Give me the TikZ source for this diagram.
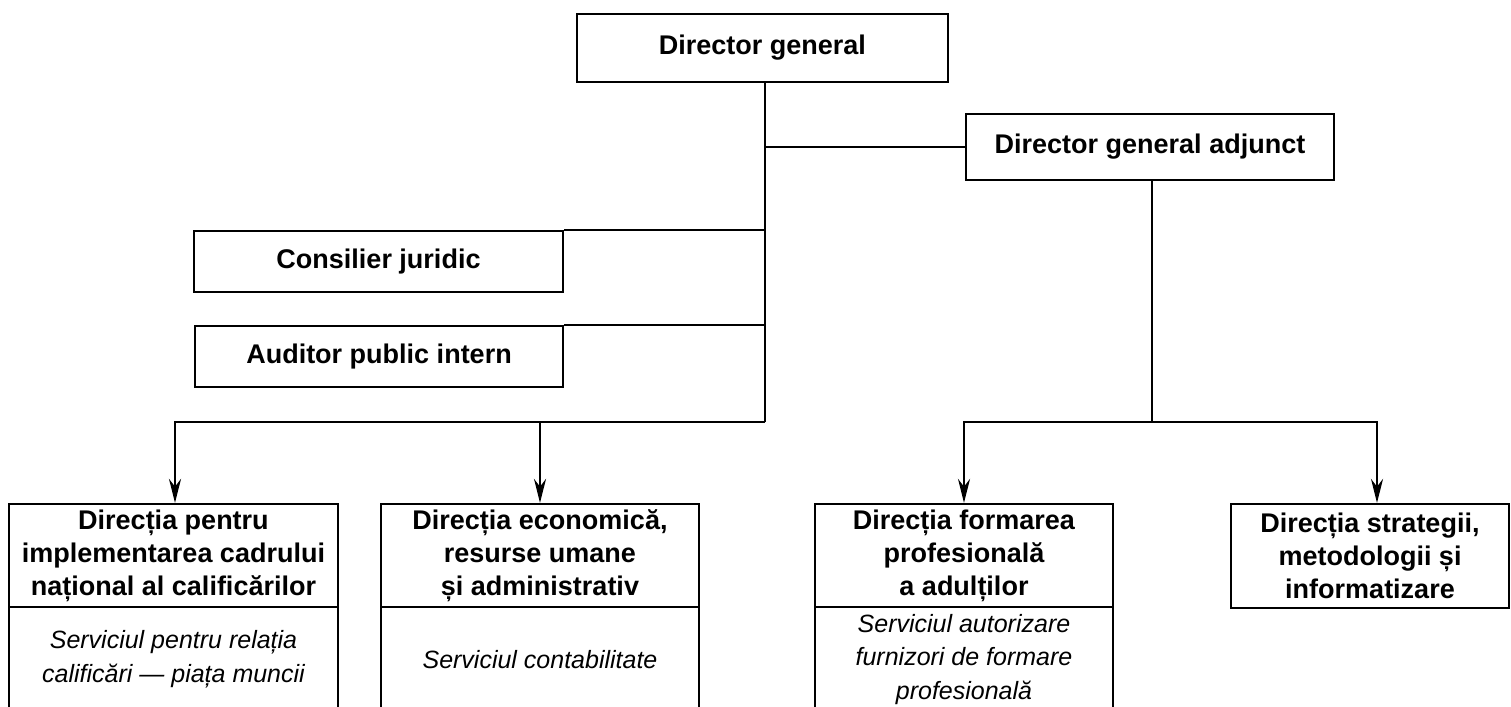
\documentclass[tikz,border=0pt]{standalone}
\usepackage{fontspec}
\setmainfont{Liberation Sans}
\usetikzlibrary{arrows.meta}
\begin{document}
\begin{tikzpicture}[x=0.5pt,y=-0.5pt,line width=1.1pt,
  box/.style={draw, rectangle, inner sep=0pt, align=center,
    font=\bfseries\fontsize{13.5}{16.5}\selectfont},
  sbox/.style={draw, rectangle, inner sep=0pt, align=center,
    font=\itshape\fontsize{12.5}{16.8}\selectfont},
  arr/.style={-{Stealth[length=12pt,width=6pt]}}]
\useasboundingbox (0,0) rectangle (1511,707);
\clip (0,0) rectangle (1511,707);

\node[box, minimum width=185.5pt, minimum height=34pt] (dg) at (762.5,48) {Director general};
\node[box, minimum width=184pt, minimum height=33pt] (dga) at (1150,147) {Director general adjunct};
\node[box, minimum width=184.5pt, minimum height=30.5pt] (cj) at (378.5,261.5) {Consilier juridic};
\node[box, minimum width=184pt, minimum height=30.5pt] (aud) at (379,356.5) {Auditor public intern};

\node[box, minimum width=164.5pt, minimum height=51.5pt] (b1) at (173.5,555.5)
  {Direcția pentru\\implementarea cadrului\\național al calificărilor};
\node[sbox, minimum width=164.5pt, minimum height=52.5pt] (s1) at (173.5,659.5)
  {Serviciul pentru relația\\calificări — piața muncii};

\node[box, minimum width=159pt, minimum height=51.5pt] (b2) at (540,555.5)
  {Direcția economică,\\resurse umane\\și administrativ};
\node[sbox, minimum width=159pt, minimum height=52.5pt] (s2) at (540,659.5)
  {Serviciul contabilitate};

\node[box, minimum width=149pt, minimum height=51.5pt] (b3) at (964,555.5)
  {Direcția formarea\\profesională\\a adulților};
\node[sbox, minimum width=149pt, minimum height=52.5pt] (s3) at (964,659.5)
  {Serviciul autorizare\\furnizori de formare\\profesională};

\node[box, minimum width=139pt, minimum height=52pt] (b4) at (1370,556)
  {Direcția strategii,\\metodologii și\\informatizare};

\coordinate (lj) at (765,422);
\coordinate (rj) at (1152,422);
\coordinate (dgs) at (dg.south -| lj);
\coordinate (dj) at (lj |- dga.west);
\coordinate (dgas) at (dga.south -| rj);

\draw (dgs) -- (lj);
\draw (dj) -- (dga.west);
\draw (cj.north east) -- (cj.north east -| lj);
\draw (aud.north east) -- (aud.north east -| lj);
\draw[arr] (lj) -| ([xshift=0.75pt]b1.north);
\draw[arr] (lj) -| (b2.north);
\draw (dgas) -- (rj);
\draw[arr] (rj) -| (b3.north);
\draw[arr] (rj) -| ([xshift=3.5pt]b4.north);
\end{tikzpicture}
\end{document}
